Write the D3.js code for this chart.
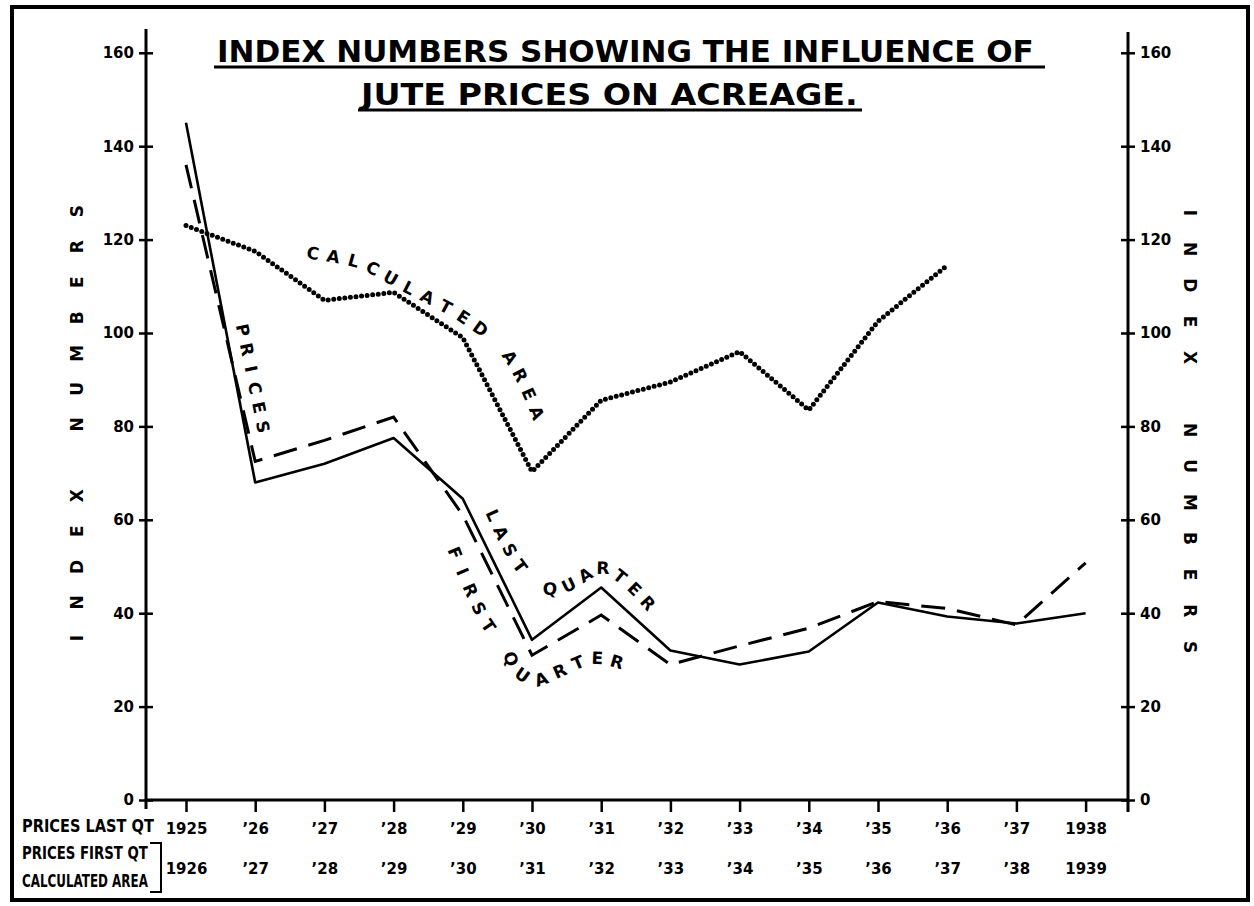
<!DOCTYPE html>
<html>
<head>
<meta charset="utf-8">
<script src="https://cdn.jsdelivr.net/npm/d3@7"></script>
<style>
  body { margin: 0; background: #fff; }
  svg { display: block; }
</style>
</head>
<body>
<svg id="chart" width="1254" height="906"></svg>
<script>
// ---- data ----
const topLabels = ["1925", "’26", "’27", "’28", "’29", "’30", "’31", "’32", "’33", "’34", "’35", "’36", "’37", "1938"];
const bottomLabels = ["1926", "’27", "’28", "’29", "’30", "’31", "’32", "’33", "’34", "’35", "’36", "’37", "’38", "1939"];
const pricesLastQuarter = [145, 68, 72, 77.5, 64.5, 34.3, 45.5, 32, 29, 31.8, 42.3, 39.3, 37.8, 40];
const pricesFirstQuarter = [136, 72.5, 77, 82, 61, 31, 39.6, 29, 33, 36.8, 42.5, 41, 37.5, 50.8];
const calculatedArea = [123, 117.5, 107, 108.7, 99, 70.3, 85.6, 89.5, 96, 83.5, 102.5, 114.5];
const yTicks = [0, 20, 40, 60, 80, 100, 120, 140, 160];

const numFont = "'DejaVu Sans', sans-serif";
const titleFont = "'DejaVu Sans Condensed', 'DejaVu Sans', sans-serif";
const legendFont = "'Liberation Sans Narrow', 'DejaVu Sans Condensed', sans-serif";

const svg = d3.select("#chart");

const leftX = 146, rightX = 1128, baseY = 800;

const x = d3.scaleLinear().domain([0, 13]).range([186, 1085.6]);
const y = d3.scaleLinear().domain([0, 160]).range([baseY, 52.8]);

// frame
svg.append("rect")
  .attr("x", 12).attr("y", 7)
  .attr("width", 1236).attr("height", 893)
  .attr("fill", "none")
  .attr("stroke", "#000")
  .attr("stroke-width", 4);

// axis lines
svg.append("line").attr("x1", leftX).attr("x2", leftX).attr("y1", 29).attr("y2", 809)
  .attr("stroke", "#000").attr("stroke-width", 3);
svg.append("line").attr("x1", rightX).attr("x2", rightX).attr("y1", 32).attr("y2", 812)
  .attr("stroke", "#000").attr("stroke-width", 3);
svg.append("line").attr("x1", leftX).attr("x2", rightX).attr("y1", baseY).attr("y2", baseY)
  .attr("stroke", "#000").attr("stroke-width", 3);

// y axes
const yLeft = svg.append("g")
  .attr("transform", "translate(" + leftX + ",0)")
  .call(d3.axisLeft(y).tickValues(yTicks).tickSize(7).tickPadding(5));
yLeft.selectAll(".tick line").attr("x1", 7);

const yRight = svg.append("g")
  .attr("transform", "translate(" + rightX + ",0)")
  .call(d3.axisRight(y).tickValues(yTicks).tickSize(7).tickPadding(5));
yRight.selectAll(".tick line").attr("x1", -7);

[yLeft, yRight].forEach(g => {
  g.select(".domain").remove();
  g.selectAll(".tick line").attr("stroke", "#000").attr("stroke-width", 2.5);
  g.selectAll(".tick text")
    .style("font-family", numFont)
    .style("font-weight", "bold")
    .style("font-size", "15px")
    .attr("fill", "#000");
});

// x axis, two rows of year labels
const xTop = svg.append("g")
  .attr("transform", "translate(0," + baseY + ")")
  .call(d3.axisBottom(x).tickValues(d3.range(topLabels.length)).tickFormat(i => topLabels[i]).tickSize(12));
xTop.select(".domain").remove();
xTop.selectAll(".tick line").attr("stroke", "#000").attr("stroke-width", 2.5);
xTop.selectAll(".tick text").attr("y", 0).attr("dy", 34);

const xBottom = svg.append("g")
  .attr("transform", "translate(0," + baseY + ")")
  .call(d3.axisBottom(x).tickValues(d3.range(bottomLabels.length)).tickFormat(i => bottomLabels[i]).tickSize(0));
xBottom.select(".domain").remove();
xBottom.selectAll(".tick line").remove();
xBottom.selectAll(".tick text").attr("y", 0).attr("dy", 74);

[xTop, xBottom].forEach(g => {
  g.selectAll(".tick text")
    .style("font-family", numFont)
    .style("font-weight", "bold")
    .style("font-size", "15px")
    .attr("fill", "#000");
});

// series
const line = d3.line()
  .x((d, i) => x(i))
  .y(d => y(d));

svg.append("path")
  .datum(pricesFirstQuarter)
  .attr("d", line)
  .attr("fill", "none")
  .attr("stroke", "#000")
  .attr("stroke-width", 3)
  .attr("stroke-dasharray", "24 12");

svg.append("path")
  .datum(pricesLastQuarter)
  .attr("d", line)
  .attr("fill", "none")
  .attr("stroke", "#000")
  .attr("stroke-width", 2.6)
  .attr("stroke-linejoin", "round");

svg.append("path")
  .datum(calculatedArea)
  .attr("d", line)
  .attr("fill", "none")
  .attr("stroke", "#000")
  .attr("stroke-width", 5)
  .attr("stroke-linecap", "round")
  .attr("stroke-dasharray", "0 5.6");

// letters spread evenly along a guide path, each turned to the path
function spellAlong(pts, text, size) {
  const d = d3.line().curve(d3.curveCatmullRom)(pts);
  const node = svg.append("path").attr("d", d).attr("fill", "none").attr("stroke", "none").node();
  const len = node.getTotalLength();
  const n = text.length;
  for (let i = 0; i < n; i++) {
    if (text[i] === " ") continue;
    const s = len * i / (n - 1);
    const a = node.getPointAtLength(Math.max(0, s - 1.5));
    const b = node.getPointAtLength(Math.min(len, s + 1.5));
    const p = node.getPointAtLength(s);
    const ang = Math.atan2(b.y - a.y, b.x - a.x) * 180 / Math.PI;
    svg.append("text")
      .attr("transform", "translate(" + p.x + "," + p.y + ") rotate(" + ang + ")")
      .attr("text-anchor", "middle")
      .attr("dy", "0.36em")
      .style("font-family", numFont)
      .style("font-weight", "bold")
      .style("font-size", size + "px")
      .text(text[i]);
  }
}

const toPx = p => [x(p[0]), y(p[1])];

spellAlong([[1.835, 117.1], [2.486, 115.2], [3.194, 109.9], [4.032, 103.2], [4.639, 95.7], [5.072, 82.9]].map(toPx),
  "CALCULATED AREA", 17);
spellAlong([[0.824, 100.6], [0.97, 90.2], [1.113, 79.9]].map(toPx), "PRICES", 17);
spellAlong([[4.436, 61.0], [4.798, 50.7], [5.145, 45.6], [5.448, 45.6], [6.026, 49.7], [6.35, 47], [6.676, 42.2]].map(toPx),
  "LAST QUARTER", 17);
spellAlong([[3.887, 52.9], [4.321, 38.5], [4.639, 32.1], [4.783, 27.8], [5.043, 25.7], [5.332, 27.2], [5.882, 30.4], [6.228, 29.6]].map(toPx),
  "FIRST QUARTER", 17);

// axis titles
spellAlong([[77, 638], [77, 211]], "INDEX NUMBERS", 17);
spellAlong([[1190, 213], [1190, 647]], "INDEX NUMBERS", 17);

// text squeezed to a given width by scaling it, so its box stays true
function fitText(str, x0, base, width, family, size) {
  const t = svg.append("text")
    .style("font-family", family)
    .style("font-weight", "bold")
    .style("font-size", size + "px")
    .text(str);
  const w = t.node().getComputedTextLength();
  t.attr("transform", "translate(" + x0 + "," + base + ") scale(" + (width / w) + ",1)");
  return t;
}

// title
const titleLines = [
  { text: "INDEX NUMBERS SHOWING THE INFLUENCE OF", x0: 217, x1: 1034, base: 62, rule: [214, 1045, 67] },
  { text: "JUTE PRICES ON ACREAGE.", x0: 361, x1: 858, base: 105, rule: [358, 862, 110] }
];
titleLines.forEach(t => {
  fitText(t.text, t.x0, t.base, t.x1 - t.x0, titleFont, 31);
  svg.append("line")
    .attr("x1", t.rule[0]).attr("x2", t.rule[1])
    .attr("y1", t.rule[2]).attr("y2", t.rule[2])
    .attr("stroke", "#000").attr("stroke-width", 3);
});

// row legend, bottom left
const legendRows = [
  { text: "PRICES LAST QT", base: 832, w: 132 },
  { text: "PRICES FIRST QT", base: 859, w: 126 },
  { text: "CALCULATED AREA", base: 887, w: 126 }
];
legendRows.forEach(r => fitText(r.text, 22, r.base, r.w, legendFont, 18));

svg.append("path")
  .attr("d", "M150,843H161V892H150")
  .attr("fill", "none")
  .attr("stroke", "#000")
  .attr("stroke-width", 2);
</script>
</body>
</html>
